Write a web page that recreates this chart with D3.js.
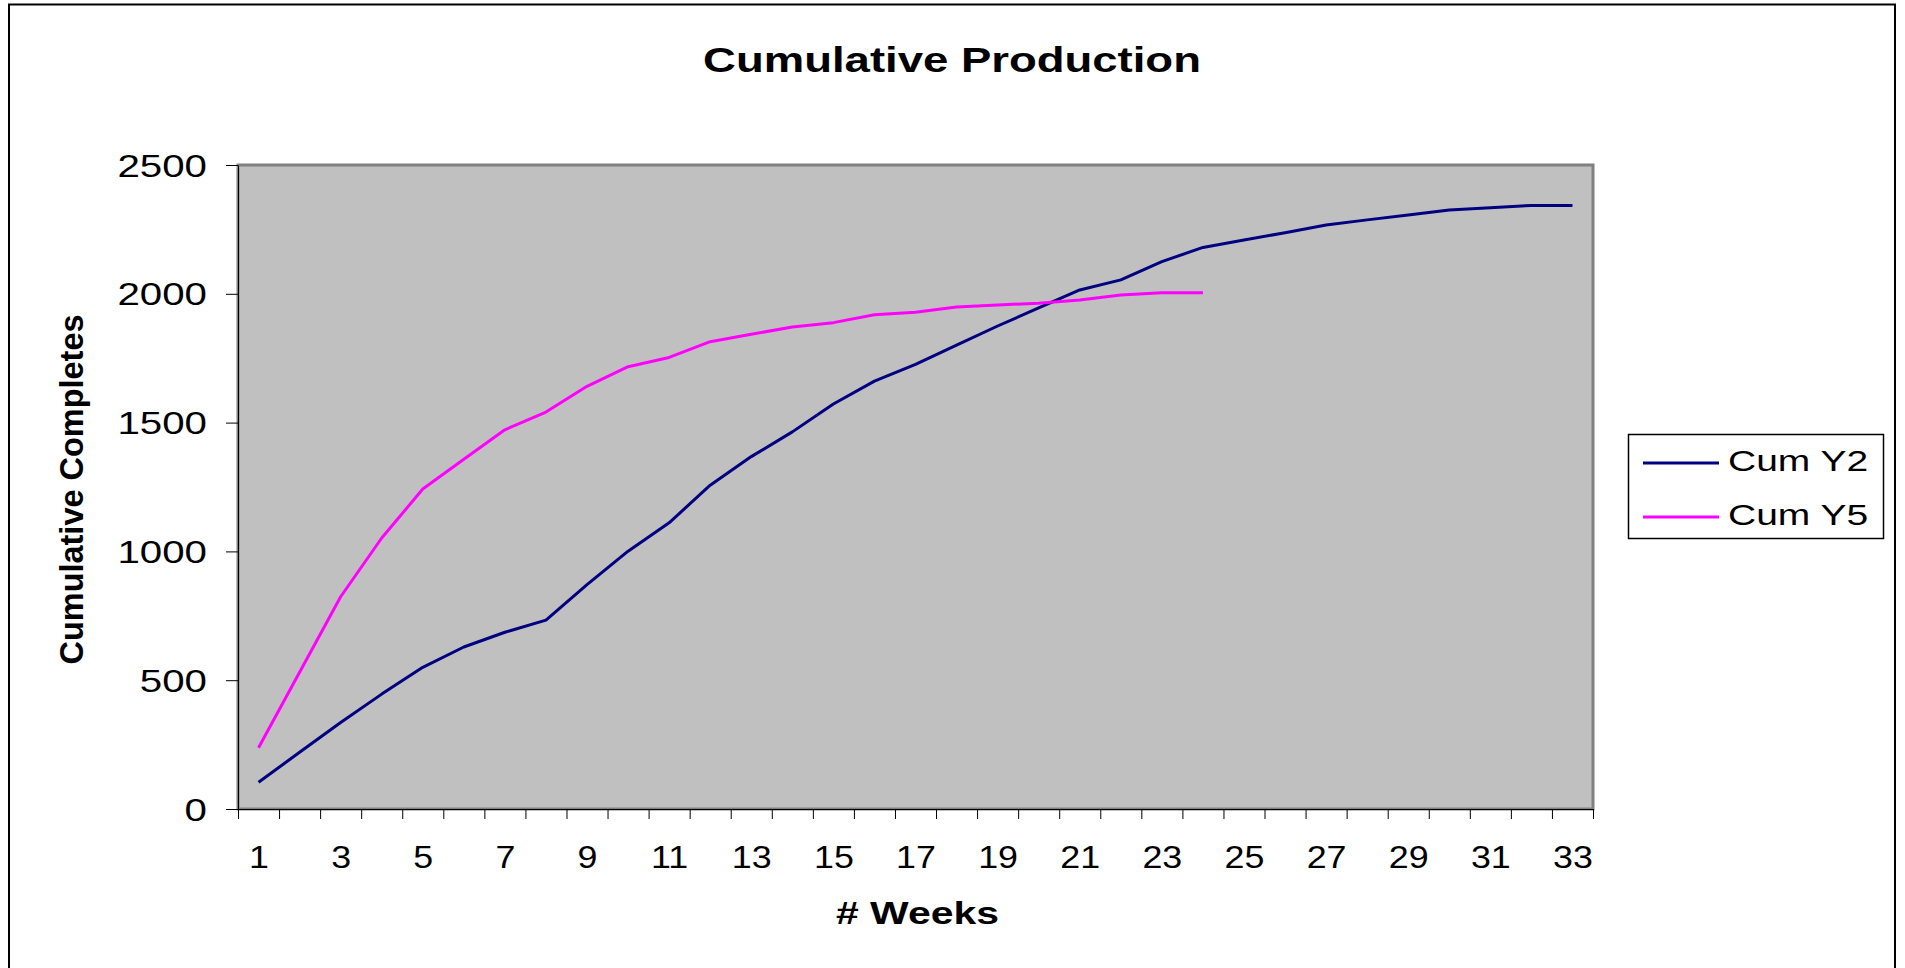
<!DOCTYPE html>
<html>
<head>
<meta charset="utf-8">
<script src="https://cdn.jsdelivr.net/npm/d3@7"></script>
<style>
  html, body { margin: 0; padding: 0; background: #fff; overflow: hidden; }
</style>
</head>
<body>
<svg id="chart" width="1905" height="968"></svg>
<script>
// ---- data ----
const weeks = [1, 2, 3, 4, 5, 6, 7, 8, 9, 10, 11, 12, 13, 14, 15, 16, 17,
               18, 19, 20, 21, 22, 23, 24, 25, 26, 27, 28, 29, 30, 31, 32, 33];
const cumY2 = [104, 220, 336, 446, 550, 629, 686, 733, 871, 1001, 1111, 1257,
               1368, 1464, 1572, 1661, 1726, 1801, 1875, 1945, 2015, 2054, 2125,
               2180, 2209, 2237, 2267, 2287, 2306, 2325, 2334, 2343, 2343];
const cumY5 = [238, 531, 824, 1052, 1242, 1358, 1472, 1541, 1641, 1717, 1753,
               1814, 1843, 1871, 1888, 1919, 1928, 1949, 1957, 1963, 1976, 1995,
               2004, 2004];
const yTickValues = [0, 500, 1000, 1500, 2000, 2500];
const xTickLabels = [1, 3, 5, 7, 9, 11, 13, 15, 17, 19, 21, 23, 25, 27, 29, 31, 33];
const seriesNames = ["Cum Y2", "Cum Y5"];
const seriesColors = ["#000080", "#FF00FF"];
const chartTitle = "Cumulative Production";
const xTitle = "# Weeks";
const yTitle = "Cumulative Completes";

// ---- layout ----
const plot = { left: 238, right: 1593, top: 165, bottom: 809 };
const SX = 1.3;    // horizontal widening of the chart lettering
const SX_X = 1.12; // week labels are only slightly widened
const FONT = "'Liberation Sans', Arial, Helvetica, sans-serif";

const svg = d3.select("#chart");

// chart frame
svg.append("rect")
  .attr("x", 9).attr("y", 4.5)
  .attr("width", 1886).attr("height", 1000)
  .attr("fill", "#fff").attr("stroke", "#000").attr("stroke-width", 2);

const x = d3.scaleLinear().domain([0.5, weeks.length + 0.5]).range([plot.left, plot.right]);
const y = d3.scaleLinear().domain([0, 2500]).range([plot.bottom, plot.top]);

// plot area
svg.append("rect")
  .attr("x", plot.left).attr("y", plot.top)
  .attr("width", plot.right - plot.left).attr("height", plot.bottom - plot.top)
  .attr("fill", "#C0C0C0").attr("stroke", "#808080").attr("stroke-width", 3);

// y axis
const gy = svg.append("g")
  .attr("transform", `translate(${plot.left},0)`)
  .call(d3.axisLeft(y).tickValues(yTickValues).tickSize(12).tickSizeOuter(0)
          .tickFormat(d3.format("d")));
gy.select(".domain").attr("stroke", "#000").attr("stroke-width", 1);
gy.selectAll(".tick line").attr("stroke", "#000").attr("stroke-width", 1);
gy.selectAll(".tick text")
  .attr("font-family", FONT).attr("font-size", 31).attr("fill", "#000")
  .attr("x", -31 / SX).attr("dy", "0.36em")
  .attr("transform", `scale(${SX},1)`);

// x axis: tick marks between weeks
const boundaries = weeks.map(w => w - 0.5).concat([weeks.length + 0.5]);
const gxTicks = svg.append("g")
  .attr("transform", `translate(0,${plot.bottom})`)
  .call(d3.axisBottom(x).tickValues(boundaries).tickSize(10).tickSizeOuter(0).tickFormat(""));
gxTicks.select(".domain").attr("stroke", "#000").attr("stroke-width", 1);
gxTicks.selectAll(".tick line").attr("stroke", "#000").attr("stroke-width", 1);

// x axis: week labels
const gxLabels = svg.append("g")
  .attr("transform", `translate(0,${plot.bottom})`)
  .call(d3.axisBottom(x).tickValues(xTickLabels).tickSize(0).tickSizeOuter(0)
          .tickFormat(d3.format("d")));
gxLabels.select(".domain").remove();
gxLabels.selectAll(".tick text")
  .attr("font-family", FONT).attr("font-size", 32).attr("fill", "#000")
  .attr("y", 59).attr("dy", 0)
  .attr("transform", `scale(${SX_X},1)`);

// series lines
const line = d3.line()
  .x((d, i) => x(weeks[i]))
  .y(d => y(d));

[cumY2, cumY5].forEach((vals, i) => {
  svg.append("path")
    .datum(vals)
    .attr("d", line)
    .attr("fill", "none")
    .attr("stroke", seriesColors[i])
    .attr("stroke-width", 3)
    .attr("stroke-linejoin", "round");
});

// titles
svg.append("text")
  .attr("transform", `translate(952,71.5) scale(${SX},1)`)
  .attr("text-anchor", "middle")
  .attr("font-family", FONT).attr("font-weight", "bold").attr("font-size", 35)
  .text(chartTitle);

svg.append("text")
  .attr("transform", `translate(917.5,924) scale(${SX},1)`)
  .attr("text-anchor", "middle")
  .attr("font-family", FONT).attr("font-weight", "bold").attr("font-size", 31.5)
  .text(xTitle);

svg.append("text")
  .attr("transform", "translate(83,489.5) scale(1.05,1) rotate(-90)")
  .attr("text-anchor", "middle")
  .attr("font-family", FONT).attr("font-weight", "bold").attr("font-size", 32)
  .attr("textLength", 350).attr("lengthAdjust", "spacingAndGlyphs")
  .text(yTitle);

// legend
const legend = svg.append("g");
legend.append("rect")
  .attr("x", 1628.5).attr("y", 434.5)
  .attr("width", 255).attr("height", 104)
  .attr("fill", "#fff").attr("stroke", "#000").attr("stroke-width", 1.5);

const legendRows = [463, 517];
seriesNames.forEach((name, i) => {
  legend.append("line")
    .attr("x1", 1643).attr("x2", 1719)
    .attr("y1", legendRows[i]).attr("y2", legendRows[i])
    .attr("stroke", seriesColors[i]).attr("stroke-width", 3);
  legend.append("text")
    .attr("transform", `translate(1728,${legendRows[i] + 8}) scale(${SX},1)`)
    .attr("font-family", FONT).attr("font-size", 30).attr("fill", "#000")
    .text(name);
});
</script>
</body>
</html>
